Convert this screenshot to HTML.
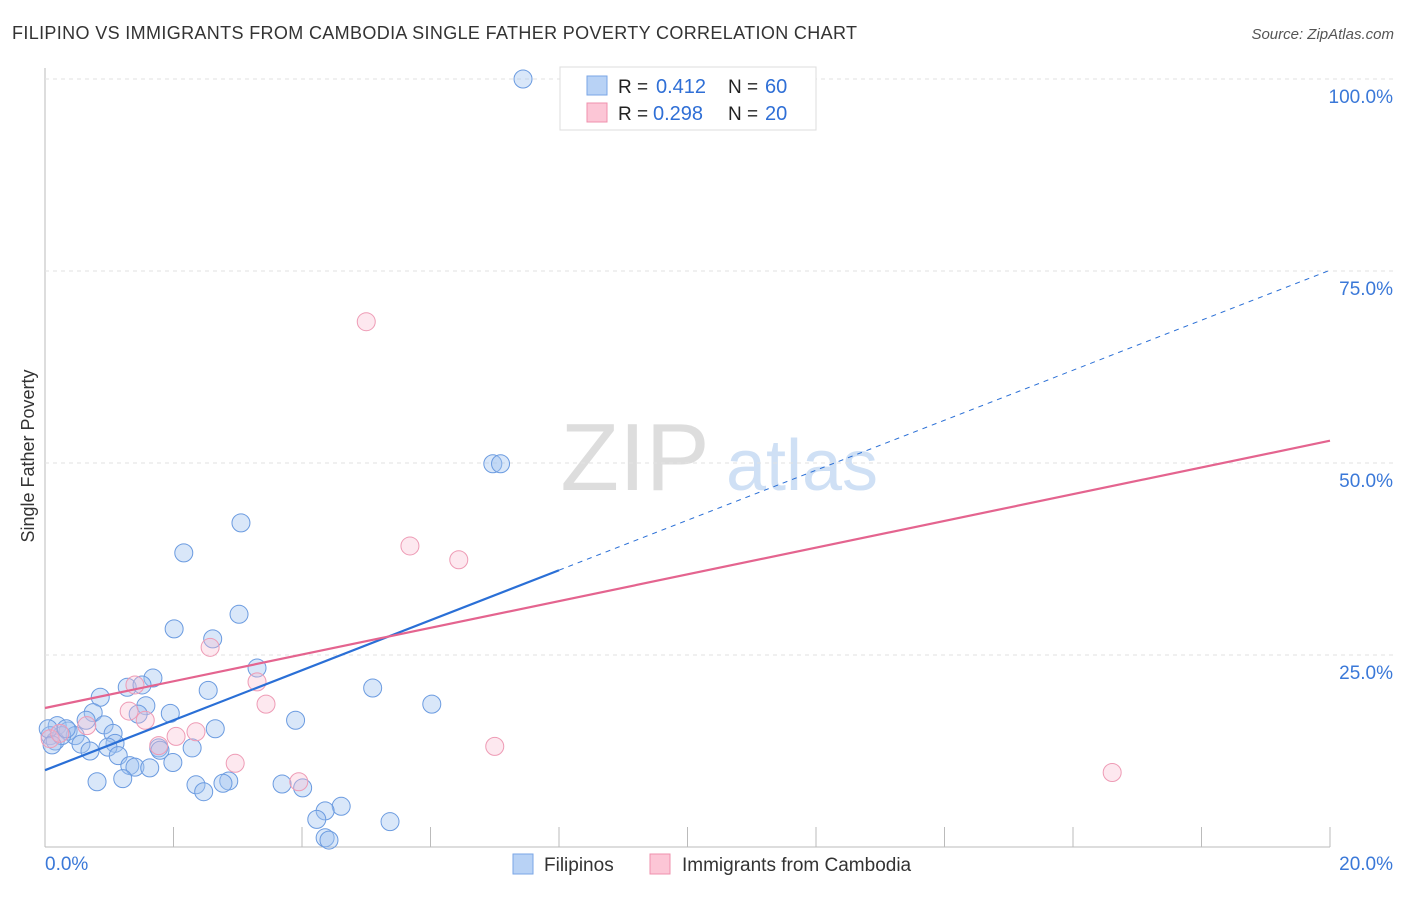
<!DOCTYPE html>
<html><head><meta charset="utf-8"><style>
body{margin:0;background:#fff;font-family:"Liberation Sans",sans-serif}
svg text{font-family:"Liberation Sans",sans-serif}
</style></head><body>
<svg id="c" width="1406" height="892" xmlns="http://www.w3.org/2000/svg">
<text x="12" y="39" font-size="18" fill="#333" textLength="845">FILIPINO VS IMMIGRANTS FROM CAMBODIA SINGLE FATHER POVERTY CORRELATION CHART</text>
<text x="1394" y="39" font-size="15" fill="#555" text-anchor="end" font-style="italic">Source: ZipAtlas.com</text>
<text transform="translate(34,456) rotate(-90)" font-size="18" fill="#333" text-anchor="middle">Single Father Poverty</text>
<g><text x="635" y="490" font-size="96" fill="#ddd" font-family="Liberation Serif" text-anchor="middle">ZIP</text><text x="802" y="490" font-size="72" fill="#cfe0f5" text-anchor="middle">atlas</text></g>
<g id="grid"></g><g id="marks"></g>
<g>
<rect x="560" y="67" width="256" height="63" fill="#fff" stroke="#ddd"/>
<rect x="587" y="76" width="20" height="19" fill="#b8d2f5" stroke="#7aa6e6"/>
<rect x="587" y="103" width="20" height="19" fill="#fcc6d6" stroke="#ef90ad"/>
<text x="618" y="93" font-size="19" fill="#222">R =</text><text x="656" y="93" font-size="20" fill="#2f6fd6">0.412</text>
<text x="728" y="93" font-size="19" fill="#222">N =</text><text x="765" y="93" font-size="20" fill="#2f6fd6">60</text>
<text x="618" y="120" font-size="19" fill="#222">R =</text><text x="653" y="120" font-size="20" fill="#2f6fd6">0.298</text>
<text x="728" y="120" font-size="19" fill="#222">N =</text><text x="765" y="120" font-size="20" fill="#2f6fd6">20</text>
</g>
<g>
<rect x="513" y="854" width="20" height="20" fill="#b8d2f5" stroke="#7aa6e6"/>
<text x="544" y="871" font-size="19" fill="#333">Filipinos</text>
<rect x="650" y="854" width="20" height="20" fill="#fcc6d6" stroke="#ef90ad"/>
<text x="682" y="871" font-size="19" fill="#333">Immigrants from Cambodia</text>
</g>
</svg>
<script>
const xTicks=[0,20];
const yTicks=[25,50,75,100];
const blueX=[7.44,6.97,7.09,3.05,2.16,3.02,2.01,2.61,1.68,3.30,1.28,1.51,0.86,2.54,5.10,6.02,1.57,0.75,1.45,1.95,0.92,0.64,3.90,2.65,1.06,0.19,0.36,0.47,0.08,0.16,0.56,1.09,0.70,0.98,2.29,1.77,1.79,1.14,1.99,1.32,1.40,1.63,0.81,1.21,2.35,2.86,2.77,2.47,3.69,4.01,4.61,4.36,4.23,5.37,4.36,4.42,0.26,0.05,0.11,0.33];
const blueY=[100,49.9,49.9,42.2,38.3,30.3,28.4,27.1,22.0,23.3,20.8,21.1,19.5,20.4,20.7,18.6,18.4,17.5,17.3,17.4,15.9,16.5,16.5,15.4,14.8,15.8,15.1,14.5,14.5,13.8,13.4,13.5,12.5,13.0,12.9,12.9,12.6,11.9,11.0,10.6,10.4,10.3,8.5,8.9,8.1,8.6,8.3,7.2,8.2,7.7,5.3,4.7,3.6,3.3,1.2,0.9,14.5,15.4,13.3,15.4];
const pinkX=[9.03,5.00,5.68,6.44,2.57,3.30,3.44,1.40,1.31,1.56,2.04,2.35,1.77,2.96,3.95,7.00,16.61,0.65,0.08,0.23];
const pinkY=[100,68.4,39.2,37.4,26.0,21.5,18.6,21.1,17.7,16.5,14.4,15.0,13.2,10.9,8.5,13.1,9.7,15.8,14.1,14.8];
const blueLine=[10.0,75.1], pinkLine=[18.1,52.9], blueSolidEnd=8.0;
const X=v=>45+v/20*1285, Y=v=>847-v*7.68;
const ns="http://www.w3.org/2000/svg";
const grid=document.getElementById('grid'), marks=document.getElementById('marks');
function mk(tag,at,parent){const e=document.createElementNS(ns,tag);for(const k in at)e.setAttribute(k,at[k]);parent.appendChild(e);return e;}
let ax=mk('line',{x1:45,y1:68,x2:45,y2:847,stroke:'#bbb'},grid);


let xa=mk('line',{x1:45,y1:847,x2:1330,y2:847,stroke:'#bbb'},grid);


for(let i=1;i<=10;i++){let t=mk('line',{x1:X(i*2),x2:X(i*2),y1:827,y2:847,stroke:'#bbb'},grid);

}
yTicks.forEach(v=>{let g=mk('line',{x1:45,x2:1395,y1:Y(v),y2:Y(v),stroke:'#e2e2e2','stroke-dasharray':'4,4'},grid);


let t=mk('text',{x:1393,y:Y(v)+24,'font-size':19,fill:'#3a78d8','text-anchor':'end'},grid);t.textContent=v.toFixed(1)+'%';

});
xTicks.forEach((v,i)=>{let t=mk('text',{x:i?1393:45,y:870,'font-size':19,fill:'#3a78d8','text-anchor':i?'end':'start'},grid);t.textContent=v.toFixed(1)+'%';

});
function pts(xs,ys,fill,stroke,name){xs.forEach((x,i)=>{let c=mk('circle',{cx:X(x),cy:Y(ys[i]),r:9,fill:fill,stroke:stroke,'stroke-width':1},marks);

});}
pts(blueX,blueY,'rgba(160,196,240,0.4)','#6b9be0','filipino-point');
pts(pinkX,pinkY,'rgba(250,190,210,0.35)','#ee9bb5','cambodia-point');
const by=x=>blueLine[0]+(blueLine[1]-blueLine[0])*x/20;
let l1=mk('line',{x1:X(0),y1:Y(by(0)),x2:X(blueSolidEnd),y2:Y(by(blueSolidEnd)),stroke:'#2a6fd6','stroke-width':2.2},marks);


let l2=mk('line',{x1:X(blueSolidEnd),y1:Y(by(blueSolidEnd)),x2:X(20),y2:Y(by(20)),stroke:'#2a6fd6','stroke-width':1,'stroke-dasharray':'5,5'},marks);


let l3=mk('line',{x1:X(0),y1:Y(pinkLine[0]),x2:X(20),y2:Y(pinkLine[1]),stroke:'#e4648f','stroke-width':2.2},marks);


</script>
</body></html>
